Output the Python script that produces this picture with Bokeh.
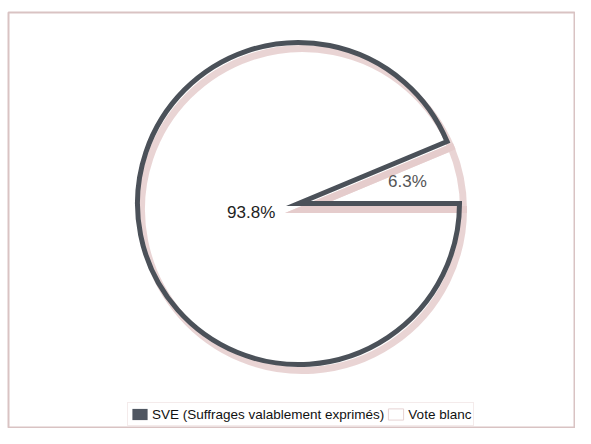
import numpy as np
from bokeh.plotting import figure
from bokeh.models import Range1d, Legend, LegendItem
from bokeh.embed import file_html
from bokeh.resources import INLINE
from bokeh.core.properties import value

# ---- data ----
categories = ["SVE (Suffrages valablement exprimés)", "Vote blanc"]
values = [93.8, 6.3]
labels = ["93.8%", "6.3%"]
legend_colors = ["#4f5661", "#ffffff"]

# ---- layout constants ----
W, H = 575, 428
BL, BT = 8, 12                # border offsets (left, top)
FW, FH = W - BL, H - BT       # frame size
S = 161.0                     # pixels per unit radius
CX, CY = 290.0, 191.0         # pie centre, px from frame top-left
LABEL_R = [0.30, 0.69]        # label distance from centre (fraction of radius)
SHADOW_DX, SHADOW_DY = 4.0 / S, -6.0 / S
OUTLINE = "#4b5159"
SHADOW = "#e4c9c9"

fr = np.array(values, dtype=float) / sum(values)
# Vote blanc starts at 3 o'clock, going counter-clockwise, then SVE
order = [1, 0]
cum = np.concatenate([[0.0], np.cumsum(fr[order])]) * 2 * np.pi
start = {order[i]: cum[i] for i in range(len(order))}
end = {order[i]: cum[i + 1] for i in range(len(order))}

p = figure(width=W, height=H,
           x_range=Range1d(-CX / S, (FW - CX) / S),
           y_range=Range1d(-(FH - CY) / S, CY / S),
           output_backend="svg", toolbar_location=None,
           min_border=0, min_border_left=BL, min_border_top=BT,
           x_axis_location=None, y_axis_location=None)
p.grid.visible = False
p.outline_line_color = "#d9c3c3"
p.outline_line_width = 2
p.background_fill_color = "white"
p.border_fill_color = "white"

# shadows
for i in range(len(values)):
    p.wedge(x=SHADOW_DX, y=SHADOW_DY, radius=1.0,
            start_angle=start[i], end_angle=end[i],
            fill_color=None, line_color=SHADOW, line_width=7,
            line_alpha=0.8, line_join="miter")

# main slices
p.wedge(x=0, y=0, radius=1.0, start_angle=start[0], end_angle=end[0],
        fill_color=None, line_color=OUTLINE, line_width=5, line_join="miter")
p.wedge(x=0, y=0, radius=1.0, start_angle=start[1], end_angle=end[1],
        fill_color=None, line_color=None)

# labels
mid = [(start[i] + end[i]) / 2 for i in range(len(values))]
lx = [LABEL_R[i] * np.cos(mid[i]) for i in range(len(values))]
ly = [LABEL_R[i] * np.sin(mid[i]) for i in range(len(values))]
p.text(x=lx, y=ly, text=labels, text_align="center", text_baseline="middle",
       text_font=value("Liberation Sans"), text_font_size="17px",
       text_color=["#222222", "#555555"])

# legend swatches: zero-size rects at the pie centre (only their legend glyph shows)
sw = []
for i, c in enumerate(legend_colors):
    sw.append(p.rect(x=[0], y=[0], width=[0], height=[0],
                     fill_color=c,
                     line_color=("#e6d3d3" if i == 1 else None), line_width=1))
legend = Legend(items=[LegendItem(label=categories[i], renderers=[sw[i]])
                       for i in range(len(categories))],
                orientation="horizontal", location=(119, 2),
                glyph_width=19, glyph_height=14, label_height=18,
                label_text_font="Liberation Sans", label_text_font_size="13.5px",
                label_text_color="#111111",
                label_standoff=3, spacing=2, padding=2, margin=0,
                border_line_color="#ead8d8", border_line_width=1,
                background_fill_color="white", background_fill_alpha=1)
p.add_layout(legend)

open("out.html", "w").write(file_html(p, INLINE))
